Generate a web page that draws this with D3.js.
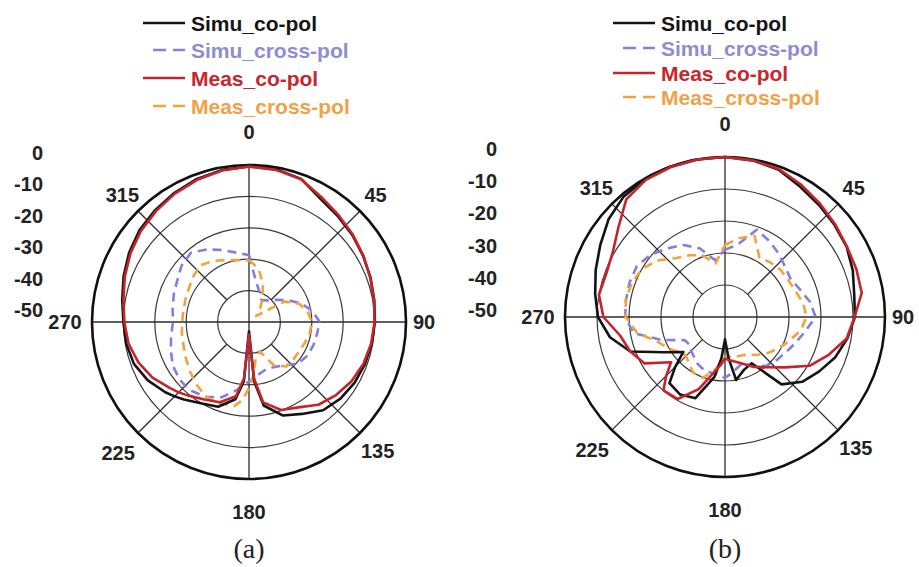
<!DOCTYPE html>
<html>
<head>
<meta charset="utf-8">
<script src="https://cdn.jsdelivr.net/npm/d3@7"></script>
<style>
  body { margin: 0; background: #fff; }
  svg { display: block; }
  text { font-family: "Liberation Sans", Arial, sans-serif; }
</style>
</head>
<body>
<div class="figure"></div>
<script>
// angles (deg, clockwise from top) shared by every curve
const angles = [0,10,20,30,40,50,60,70,80,90,100,110,120,130,140,150,160,170,175,180,185,
                190,200,210,220,225,230,240,250,260,270,280,290,300,310,320,330,340,350,360];

// panel (a), dB
const simuCoA    = [-0.5,-0.6,-1.5,-4.6,-6.0,-7.0,-8.0,-8.8,-9.5,-9.9,-10.3,-10.7,-11.2,-12.0,-13.3,-16.2,-18.3,-23,-31,-47,-31,
                    -25,-21.3,-20,-17.8,-16.5,-15.2,-12.8,-11,-10.3,-10,-9,-7.5,-5.9,-4.5,-3.5,-2.5,-1.5,-0.8,-0.5];
const simuCrossA = [-28.7,-37,-40,-42,-41,-39,-36,-32.5,-29.5,-27.5,-28,-28.2,-28.5,-29.5,-32,-33.5,-34,-33,-32,-31,-30,
                    -28,-24.5,-22.5,-21.4,-21.3,-21.3,-22,-23.5,-24.8,-25.8,-25.3,-24.5,-23.6,-22,-21.2,-23.3,-25.6,-27.6,-28.7];
const measCoA    = [-0.5,-0.8,-1.6,-4.0,-5.6,-6.8,-7.9,-8.9,-9.6,-10,-10.5,-11.2,-12.3,-13.8,-15.6,-18.6,-20.2,-24,-32,-46,-32,
                    -26,-22.8,-21.5,-19.5,-18.3,-17.2,-14.5,-12.5,-11,-10.3,-9.4,-7.9,-6.4,-5,-3.9,-2.8,-1.8,-1,-0.5];
const measCrossA = [-30.3,-32.7,-37,-41.5,-44.5,-47,-37,-33,-31,-30,-30.3,-31,-31.5,-31.5,-31.5,-34,-40,-38,-33,-29,-25,
                    -22.8,-22.5,-22.5,-24,-24.8,-25.5,-26.8,-27.8,-28.3,-28.7,-28.8,-28.5,-28,-27,-26.3,-27.5,-29,-30,-30.3];

// panel (b), dB
const simuCoB    = [0,-0.3,-1,-3,-4.3,-5.3,-6.1,-7.5,-9,-9.4,-11.2,-13.3,-16,-18.5,-22.5,-33.3,-32.5,-30,-37,-43,-37,
                    -31,-23,-22,-23,-28,-33,-28,-18.5,-13.5,-10.3,-8.8,-7,-5,-2.5,-0.8,-0.2,0,0,0];
const simuCrossB = [-29,-27,-21,-22.5,-24,-25.5,-26.3,-25,-23,-21.7,-24.5,-26.5,-28,-29,-30,-32.5,-34.5,-33,-32,-31,-31.5,
                    -32,-32,-33,-34.5,-35,-36,-35.5,-29,-21,-18.8,-18.6,-18.3,-18.2,-19.7,-22,-24,-27.2,-32,-29];
const measCoB    = [0,-0.3,-0.8,-2.3,-3.8,-5,-6,-6.3,-6.6,-9.5,-11.4,-15.5,-19.5,-25.5,-29.5,-32,-34.5,-36,-36.5,-37,-35,
                    -33,-26,-20.4,-20.1,-24,-28,-21,-18.5,-16.7,-12,-10,-10.5,-9.5,-6.5,-2,-0.5,-0.2,0,0];
const measCrossB = [-27.5,-25,-23,-28.5,-27.8,-27.2,-27.1,-26.5,-25.2,-24.5,-26,-28.5,-30.5,-32.5,-34.5,-36.5,-37,-37.5,-37.5,-37.5,-36,
                    -33.5,-29.7,-30,-32,-32.8,-32.5,-30,-27.5,-22,-19,-18.5,-19,-20,-22.5,-26,-27.7,-29.5,-33,-27.5];

const seriesNames = ["Simu_co-pol", "Simu_cross-pol", "Meas_co-pol", "Meas_cross-pol"];
const radialTicks = [0, -10, -20, -30, -40, -50];
const ringLevels  = [-40, -30, -20, -10];
const angleTicks  = [0, 45, 90, 135, 180, 225, 270, 315];

const labelGap  = [33, 22, 18, 25, 33, 28, 27, 22];   // distance of angle labels beyond the outer ring
const lineColor = ["#141414", "#8181dc", "#c4252c", "#f3a23e"];
const textColor = ["#151515", "#8d8dd2", "#c8262d", "#f0a24a"];
const dashed    = [false, true, false, true];
const drawOrder = [1, 3, 0, 2];

const width = 919, height = 567;

const panels = [
    { caption: "(a)", cx: 249, cy: 322, R: 157,
      series: [simuCoA, simuCrossA, measCoA, measCrossA],
      legendX: 143, legendY: [23, 50, 78, 106],
      scaleX: 43, scaleTop: 153, scaleBottom: 310 },
    { caption: "(b)", cx: 725, cy: 317, R: 160,
      series: [simuCoB, simuCrossB, measCoB, measCrossB],
      legendX: 613, legendY: [23, 48, 73, 97],
      scaleX: 497, scaleTop: 149, scaleBottom: 310 },
];

const svg = d3.select(".figure")
    .append("svg")
    .attr("width", width)
    .attr("height", height);

function drawPanel(p) {
    const rScale = d3.scaleLinear().domain([-50, 0]).range([0, p.R]).clamp(true);
    const g = svg.append("g")
        .attr("transform", "translate(" + p.cx + "," + p.cy + ")");

    // grid rings
    g.selectAll(".ring")
        .data(ringLevels)
        .enter()
        .append("circle")
        .attr("class", "ring")
        .attr("r", d => rScale(d))
        .attr("fill", "none")
        .attr("stroke", "#3a3a3a")
        .attr("stroke-width", 1.2);

    // spokes: axes through centre, diagonals start at the inner ring
    g.selectAll(".spoke")
        .data(angleTicks)
        .enter()
        .append("line")
        .attr("class", "spoke")
        .attr("x1", d => (d % 90 === 0 ? 0 : rScale(-40)) * Math.sin(d * Math.PI / 180))
        .attr("y1", d => -(d % 90 === 0 ? 0 : rScale(-40)) * Math.cos(d * Math.PI / 180))
        .attr("x2", d => p.R * Math.sin(d * Math.PI / 180))
        .attr("y2", d => -p.R * Math.cos(d * Math.PI / 180))
        .attr("stroke", "#2a2a2a")
        .attr("stroke-width", 1.3);

    // outer ring
    g.append("circle")
        .attr("r", rScale(0))
        .attr("fill", "none")
        .attr("stroke", "#111")
        .attr("stroke-width", 2.6);

    // angle labels
    g.selectAll(".alabel")
        .data(angleTicks)
        .enter()
        .append("text")
        .attr("class", "alabel")
        .attr("x", (d, i) => (p.R + labelGap[i]) * Math.sin(d * Math.PI / 180))
        .attr("y", (d, i) => -(p.R + labelGap[i]) * Math.cos(d * Math.PI / 180))
        .attr("text-anchor", "middle")
        .attr("dominant-baseline", "central")
        .style("font-size", "20px")
        .style("font-weight", "bold")
        .attr("fill", "#222")
        .text(d => d);

    // curves
    const line = d3.lineRadial()
        .angle((d, i) => angles[i] * Math.PI / 180)
        .radius(d => rScale(d));

    drawOrder.forEach(k => {
        g.append("path")
            .datum(p.series[k])
            .attr("d", line)
            .attr("fill", "none")
            .attr("stroke", lineColor[k])
            .attr("stroke-width", 2.6)
            .attr("stroke-linejoin", "round")
            .attr("stroke-dasharray", dashed[k] ? "9,6" : null);
    });

    // dB scale column at left
    const yScale = d3.scaleLinear().domain([0, -50]).range([p.scaleTop, p.scaleBottom]);
    svg.append("g")
        .selectAll("text")
        .data(radialTicks)
        .enter()
        .append("text")
        .attr("x", p.scaleX)
        .attr("y", d => yScale(d))
        .attr("text-anchor", "end")
        .attr("dominant-baseline", "central")
        .style("font-size", "20px")
        .style("font-weight", "bold")
        .attr("fill", "#222")
        .text(d => d);

    // legend
    const leg = svg.append("g");
    seriesNames.forEach((name, k) => {
        leg.append("line")
            .attr("x1", p.legendX + (dashed[k] ? 10 : 0))
            .attr("x2", p.legendX + 42)
            .attr("y1", p.legendY[k])
            .attr("y2", p.legendY[k])
            .attr("stroke", lineColor[k])
            .attr("stroke-width", 2.6)
            .attr("stroke-dasharray", dashed[k] ? "13,7" : null);
        leg.append("text")
            .attr("x", p.legendX + 48)
            .attr("y", p.legendY[k])
            .attr("dominant-baseline", "central")
            .style("font-size", "21px")
            .style("font-weight", "bold")
            .attr("fill", textColor[k])
            .text(name);
    });

    // caption
    svg.append("text")
        .attr("x", p.cx)
        .attr("y", 548)
        .attr("text-anchor", "middle")
        .attr("dominant-baseline", "central")
        .style("font-family", "'Liberation Serif', 'Times New Roman', serif")
        .style("font-size", "28px")
        .attr("fill", "#222")
        .text(p.caption);
}

panels.forEach(drawPanel);
</script>
</body>
</html>
